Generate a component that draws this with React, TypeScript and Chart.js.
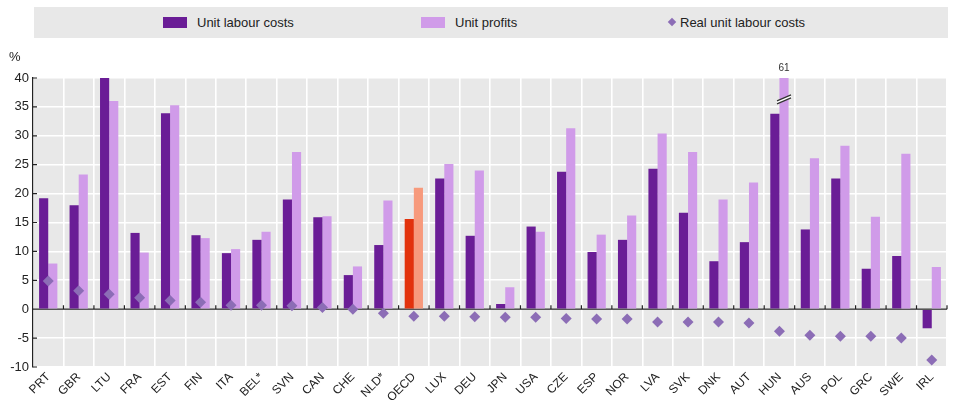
import { Chart, registerables } from "chart.js";
import { useEffect, useRef } from "react";

Chart.register(...registerables);

const countries = [
  "PRT", "GBR", "LTU", "FRA", "EST", "FIN", "ITA", "BEL*", "SVN", "CAN",
  "CHE", "NLD*", "OECD", "LUX", "DEU", "JPN", "USA", "CZE", "ESP", "NOR",
  "LVA", "SVK", "DNK", "AUT", "HUN", "AUS", "POL", "GRC", "SWE", "IRL",
];
const unitLabourCosts = [
  19.2, 18, 40, 13.2, 33.9, 12.8, 9.7, 12, 19, 15.9,
  5.9, 11.1, 15.6, 22.6, 12.7, 0.9, 14.3, 23.8, 9.9, 12,
  24.3, 16.7, 8.3, 11.6, 33.8, 13.8, 22.6, 7, 9.2, -3.3,
];
const unitProfits = [
  7.9, 23.3, 36, 9.8, 35.3, 12.3, 10.4, 13.4, 27.2, 16.1,
  7.4, 18.8, 21, 25.1, 24, 3.8, 13.4, 31.3, 12.9, 16.2,
  30.4, 27.2, 19, 21.9, 61, 26.1, 28.3, 16, 26.9, 7.3,
];
const realUnitLabourCosts = [
  4.9, 3.2, 2.6, 2, 1.5, 1.2, 0.7, 0.7, 0.6, 0.3,
  0, -0.7, -1.2, -1.2, -1.3, -1.4, -1.4, -1.6, -1.7, -1.7,
  -2.2, -2.2, -2.2, -2.4, -3.8, -4.5, -4.7, -4.7, -5, -8.8,
];
const yTicks = [-10, -5, 0, 5, 10, 15, 20, 25, 30, 35, 40];

const FONT = '"Liberation Sans", Arial, sans-serif';
const DARK = "#6a1d96";
const LIGHT = "#d09be9";
const DIAMOND = "#8c6db6";
const OECD_DARK = "#e2320c";
const OECD_LIGHT = "#f79a7c";

const decor = {
  id: "decor",
  beforeDraw(chart: any) {
    const { ctx, chartArea: a } = chart;
    ctx.save();
    ctx.fillStyle = "#e8e8e8";
    ctx.fillRect(a.left, a.top, a.right - a.left, a.bottom - a.top);
    ctx.restore();
  },
  beforeDatasetsDraw(chart: any) {
    const { ctx, chartArea: a, scales } = chart;
    const x = scales.x;
    const y = scales.y;
    const y0 = y.getPixelForValue(0);
    ctx.save();
    ctx.strokeStyle = "#222";
    ctx.lineWidth = 1.2;
    ctx.beginPath();
    ctx.moveTo(a.left, y0);
    ctx.lineTo(a.right, y0);
    const half = (x.getPixelForValue(1) - x.getPixelForValue(0)) / 2;
    for (let i = 1; i <= countries.length; i++) {
      const bx = x.getPixelForValue(i) - half;
      ctx.moveTo(bx, y0);
      ctx.lineTo(bx, y0 - 4);
    }
    yTicks.forEach((v) => {
      const py = y.getPixelForValue(v);
      ctx.moveTo(a.left, py);
      ctx.lineTo(a.left + 4, py);
    });
    ctx.stroke();
    ctx.restore();
  },
  afterDatasetsDraw(chart: any) {
    const { ctx, scales } = chart;
    const bar = chart.getDatasetMeta(1).data[24];
    const y = scales.y;
    ctx.save();
    ctx.fillStyle = "#333";
    ctx.font = `10px ${FONT}`;
    ctx.textAlign = "center";
    ctx.textBaseline = "bottom";
    ctx.fillText(String(unitProfits[24]), bar.x, y.top - 5);
    // break marks
    const py = y.getPixelForValue(36.3);
    ctx.strokeStyle = "#fff";
    ctx.lineWidth = 3;
    ctx.beginPath();
    ctx.moveTo(bar.x - 7, py + 3);
    ctx.lineTo(bar.x + 7, py - 3);
    ctx.stroke();
    ctx.strokeStyle = "#333";
    ctx.lineWidth = 1.2;
    ctx.beginPath();
    ctx.moveTo(bar.x - 7, py + 1.5);
    ctx.lineTo(bar.x + 7, py - 4.5);
    ctx.moveTo(bar.x - 7, py + 4.5);
    ctx.lineTo(bar.x + 7, py - 1.5);
    ctx.stroke();
    ctx.restore();
  },
};

const UnitCostsChart: React.FC = () => {
  const chartRef = useRef<HTMLCanvasElement | null>(null);

  useEffect(() => {
    if (!chartRef.current) return;
    const ctx = chartRef.current.getContext("2d");
    if (!ctx) return;
    const myChart = new Chart(ctx, {
      type: "bar",
      data: {
        labels: countries,
        datasets: [
          {
            type: "bar",
            label: "Unit labour costs",
            data: unitLabourCosts,
            backgroundColor: countries.map((c) => (c === "OECD" ? OECD_DARK : DARK)),
            borderWidth: 0,
            categoryPercentage: 0.6,
            barPercentage: 1,
            clip: 0,
            order: 1,
          },
          {
            type: "bar",
            label: "Unit profits",
            data: unitProfits,
            backgroundColor: countries.map((c) => (c === "OECD" ? OECD_LIGHT : LIGHT)),
            borderWidth: 0,
            categoryPercentage: 0.6,
            barPercentage: 1,
            clip: 0,
            order: 1,
          },
          {
            type: "line",
            label: "Real unit labour costs",
            data: realUnitLabourCosts,
            showLine: false,
            pointStyle: "rectRot",
            pointRadius: 5.5,
            pointBackgroundColor: DIAMOND,
            pointBorderWidth: 0,
            order: 0,
          },
        ],
      } as any,
      options: {
        responsive: false,
        animation: false,
        layout: { padding: { top: 78, right: 12, left: 0, bottom: 0 } },
        plugins: {
          legend: { display: false },
          tooltip: { enabled: false },
        },
        scales: {
          x: {
            grid: { color: "#ffffff", lineWidth: 1.6, drawTicks: false, offset: true },
            border: { display: false },
            ticks: {
              autoSkip: false,
              maxRotation: 45,
              minRotation: 45,
              padding: 3,
              color: "#222",
              font: { family: FONT, size: 12 },
            },
            afterFit: (scale: any) => {
              scale.height = 35;
            },
          },
          y: {
            min: -10,
            max: 40,
            ticks: {
              stepSize: 5,
              padding: 4,
              color: "#222",
              font: { family: FONT, size: 13 },
            },
            grid: { color: "#ffffff", lineWidth: 1.6, drawTicks: false },
            border: { display: true, color: "#222", width: 1.2 },
            afterFit: (scale: any) => {
              scale.width = 33;
            },
          },
        },
      },
      plugins: [decor],
    });
    return () => myChart.destroy();
  }, []);

  const legendText = { position: "absolute", top: 8, fontSize: 13, fontFamily: FONT, color: "#222", lineHeight: "15px" } as const;

  return (
    <div style={{ position: "absolute", left: 0, top: 0, width: 959, height: 402, background: "#fff", fontFamily: FONT }}>
      <canvas ref={chartRef} width={959} height={402} style={{ position: "absolute", left: 0, top: 0 }} />
      <div style={{ position: "absolute", left: 34, top: 7, width: 914, height: 31, background: "#e8e8e8" }}>
        <div style={{ position: "absolute", left: 129, top: 10, width: 24, height: 11, background: DARK }} />
        <div style={{ ...legendText, left: 163 }}>Unit labour costs</div>
        <div style={{ position: "absolute", left: 387, top: 10, width: 24, height: 11, background: LIGHT }} />
        <div style={{ ...legendText, left: 421 }}>Unit profits</div>
        <div style={{ position: "absolute", left: 635, top: 12, width: 6, height: 6, background: DIAMOND, transform: "rotate(45deg)" }} />
        <div style={{ ...legendText, left: 646 }}>Real unit labour costs</div>
      </div>
      <div style={{ position: "absolute", left: 9, top: 49, fontSize: 13, color: "#222" }}>%</div>
    </div>
  );
};

export default function App() {
  return <UnitCostsChart />;
}
